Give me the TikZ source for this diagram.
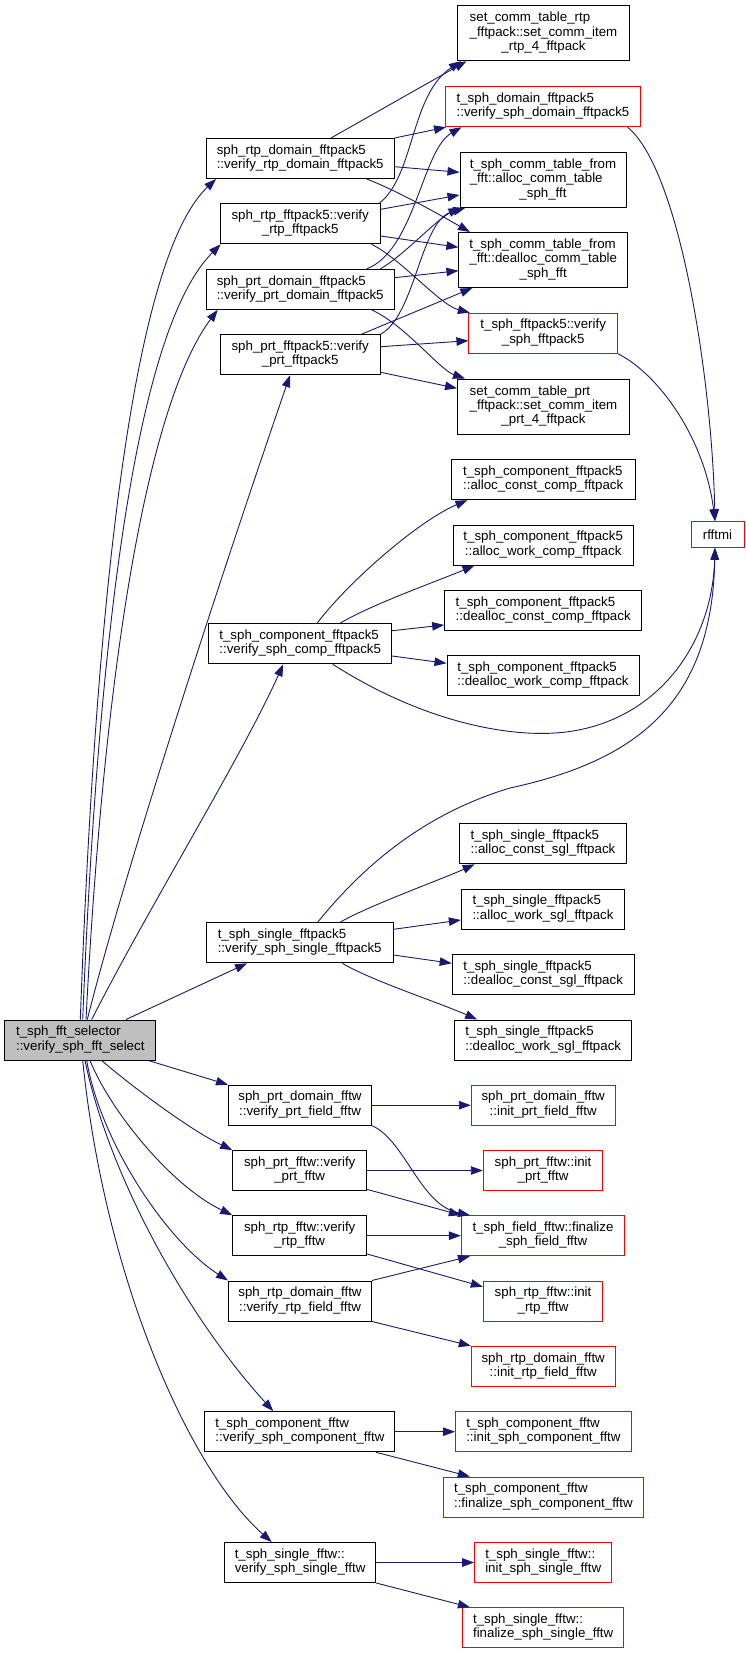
\documentclass[tikz,border=0pt]{standalone}
\usepackage{fontspec}
\setmainfont{Liberation Sans}
\usetikzlibrary{arrows.meta,calc}
\definecolor{edgeblue}{RGB}{25,25,112}
\definecolor{selgray}{RGB}{191,191,191}
\newcommand{\twol}[2]{\begin{tabular}{@{}l@{}}#1\\\multicolumn{1}{@{}c@{}}{#2}\end{tabular}}
\tikzset{
  nbox/.style={draw=black, line width=1pt, fill=white, inner sep=0pt, font=\fontsize{13.3}{14.3}\selectfont},
  rbox/.style={nbox, draw=red},
  sbox/.style={nbox, fill=selgray},
  conn/.style={draw=edgeblue, line width=0.9pt, -{Triangle[length=12pt,width=8.5pt]}, fill=none},
}
\begin{document}
\begin{tikzpicture}[x=1pt,y=-1pt]
\useasboundingbox (0,0) rectangle (745,1654);
% ---------- nodes ----------
\node[nbox,minimum width=172,minimum height=55] (n1) at (543.5,33.2) {\twol{set\_comm\_table\_rtp\\\_fftpack::set\_comm\_item}{\_rtp\_4\_fftpack}};
\node[rbox,minimum width=195,minimum height=40] (n2) at (543,106.7) {\twol{t\_sph\_domain\_fftpack5}{::verify\_sph\_domain\_fftpack5}};
\node[nbox,minimum width=188,minimum height=40] (n3) at (300.2,158.5) {\twol{sph\_rtp\_domain\_fftpack5}{::verify\_rtp\_domain\_fftpack5}};
\node[nbox,minimum width=166,minimum height=55] (n4) at (543,180) {\twol{t\_sph\_comm\_table\_from\\\_fft::alloc\_comm\_table}{\_sph\_fft}};
\node[nbox,minimum width=160,minimum height=40] (n5) at (300.2,223.8) {\twol{sph\_rtp\_fftpack5::verify}{\_rtp\_fftpack5}};
\node[nbox,minimum width=168.6,minimum height=55] (n6) at (543.2,260) {\twol{t\_sph\_comm\_table\_from\\\_fft::dealloc\_comm\_table}{\_sph\_fft}};
\node[nbox,minimum width=188,minimum height=40] (n7) at (300.2,289.3) {\twol{sph\_prt\_domain\_fftpack5}{::verify\_prt\_domain\_fftpack5}};
\node[rbox,minimum width=148.5,minimum height=40] (n8) at (543.2,333.2) {\twol{t\_sph\_fftpack5::verify}{\_sph\_fftpack5}};
\node[nbox,minimum width=160,minimum height=40] (n9) at (300.2,354.7) {\twol{sph\_prt\_fftpack5::verify}{\_prt\_fftpack5}};
\node[nbox,minimum width=172,minimum height=55] (n10) at (543.5,406.5) {\twol{set\_comm\_table\_prt\\\_fftpack::set\_comm\_item}{\_prt\_4\_fftpack}};
\node[rbox,minimum width=53,minimum height=25.6] (n11) at (717.5,534.5) {rfftmi};
\node[nbox,minimum width=184,minimum height=40] (n12) at (543.2,479.7) {\twol{t\_sph\_component\_fftpack5}{::alloc\_const\_comp\_fftpack}};
\node[nbox,minimum width=180,minimum height=40] (n13) at (543.2,545) {\twol{t\_sph\_component\_fftpack5}{::alloc\_work\_comp\_fftpack}};
\node[nbox,minimum width=197,minimum height=40] (n14) at (543.2,610.7) {\twol{t\_sph\_component\_fftpack5}{::dealloc\_const\_comp\_fftpack}};
\node[nbox,minimum width=192,minimum height=40] (n15) at (543,675.8) {\twol{t\_sph\_component\_fftpack5}{::dealloc\_work\_comp\_fftpack}};
\node[nbox,minimum width=183,minimum height=40] (n16) at (300.2,643.8) {\twol{t\_sph\_component\_fftpack5}{::verify\_sph\_comp\_fftpack5}};
\node[nbox,minimum width=167,minimum height=40] (n17) at (543,843.8) {\twol{t\_sph\_single\_fftpack5}{::alloc\_const\_sgl\_fftpack}};
\node[nbox,minimum width=163.3,minimum height=40] (n18) at (543,909.2) {\twol{t\_sph\_single\_fftpack5}{::alloc\_work\_sgl\_fftpack}};
\node[nbox,minimum width=186.7,minimum height=40] (n19) at (299.7,942.8) {\twol{t\_sph\_single\_fftpack5}{::verify\_sph\_single\_fftpack5}};
\node[nbox,minimum width=182,minimum height=40] (n20) at (543.2,974.7) {\twol{t\_sph\_single\_fftpack5}{::dealloc\_const\_sgl\_fftpack}};
\node[nbox,minimum width=177,minimum height=40] (n21) at (543.2,1040) {\twol{t\_sph\_single\_fftpack5}{::dealloc\_work\_sgl\_fftpack}};
\node[sbox,minimum width=151.3,minimum height=40] (n22) at (80.3,1040) {\twol{t\_sph\_fft\_selector}{::verify\_sph\_fft\_select}};
\node[nbox,minimum width=143,minimum height=40] (n23) at (300,1105.2) {\twol{sph\_prt\_domain\_fftw}{::verify\_prt\_field\_fftw}};
\node[rbox,minimum width=143.8,minimum height=40] (n24) at (543.2,1105.2) {\twol{sph\_prt\_domain\_fftw}{::init\_prt\_field\_fftw}};
\node[nbox,minimum width=134,minimum height=40] (n25) at (299.7,1170.5) {\twol{sph\_prt\_fftw::verify}{\_prt\_fftw}};
\node[rbox,minimum width=119.4,minimum height=40] (n26) at (543,1170.5) {\twol{sph\_prt\_fftw::init}{\_prt\_fftw}};
\node[nbox,minimum width=134,minimum height=40] (n27) at (299.7,1235.7) {\twol{sph\_rtp\_fftw::verify}{\_rtp\_fftw}};
\node[rbox,minimum width=163.3,minimum height=40] (n28) at (543,1235.7) {\twol{t\_sph\_field\_fftw::finalize}{\_sph\_field\_fftw}};
\node[nbox,minimum width=143,minimum height=40] (n29) at (300,1301) {\twol{sph\_rtp\_domain\_fftw}{::verify\_rtp\_field\_fftw}};
\node[rbox,minimum width=119.4,minimum height=40] (n30) at (543,1301) {\twol{sph\_rtp\_fftw::init}{\_rtp\_fftw}};
\node[rbox,minimum width=143.8,minimum height=40] (n31) at (543.2,1366.3) {\twol{sph\_rtp\_domain\_fftw}{::init\_rtp\_field\_fftw}};
\node[nbox,minimum width=190,minimum height=40] (n32) at (299.9,1431.7) {\twol{t\_sph\_component\_fftw}{::verify\_sph\_component\_fftw}};
\node[rbox,minimum width=175.7,minimum height=40] (n33) at (543.4,1431.7) {\twol{t\_sph\_component\_fftw}{::init\_sph\_component\_fftw}};
\node[rbox,minimum width=199.7,minimum height=40] (n34) at (543.4,1497) {\twol{t\_sph\_component\_fftw}{::finalize\_sph\_component\_fftw}};
\node[nbox,minimum width=151.4,minimum height=40] (n35) at (300.1,1562.5) {\twol{t\_sph\_single\_fftw::}{verify\_sph\_single\_fftw}};
\node[rbox,minimum width=137,minimum height=40] (n36) at (543.2,1562.5) {\twol{t\_sph\_single\_fftw::}{init\_sph\_single\_fftw}};
\node[rbox,minimum width=161,minimum height=40] (n37) at (543.2,1627.7) {\twol{t\_sph\_single\_fftw::}{finalize\_sph\_single\_fftw}};
% ---------- connectors from selector ----------
\draw[conn] (n22.north) .. controls (95,620) and (130,260) .. ($(n3.south west)+(10.4,0)$);
\draw[conn] ($(n22.north)+(2.4,0)$) .. controls (98,640) and (135,330) .. ($(n5.south west)+(1,0)$);
\draw[conn] ($(n22.north)+(5.7,0)$) .. controls (105,650) and (150,400) .. ($(n7.south west)+(12,0)$);
\draw[conn] ($(n22.north)+(7,0)$) .. controls (130,850) and (240,520) .. ($(n9.south)+(-10.2,0)$);
\draw[conn] ($(n22.north)+(11.4,0)$) .. controls (150,905) and (240,760) .. ($(n16.south)+(-16.9,0)$);
\draw[conn] ($(n22.north)+(45.7,0)$) -- ($(n19.south)+(-52.7,0)$);
\draw[conn] ($(n22.south)+(68,0)$) -- (n23.north west);
\draw[conn] ($(n22.south)+(21.4,0)$) .. controls (130,1085) and (190,1130) .. (n25.north west);
\draw[conn] ($(n22.south)+(9.7,0)$) .. controls (110,1110) and (170,1185) .. (n27.north west);
\draw[conn] ($(n22.south)+(6.4,0)$) .. controls (100,1140) and (165,1240) .. (n29.north west);
\draw[conn] ($(n22.south)+(4.7,0)$) .. controls (110,1180) and (190,1320) .. ($(n32.north)+(-26.6,0)$);
\draw[conn] ($(n22.south)+(2.4,0)$) .. controls (105,1280) and (190,1470) .. ($(n35.north)+(-28.4,0)$);
% ---------- fftpack5 groups ----------
\draw[conn] ($(n3.north)+(30.8,0)$) -- ($(n1.south west)+(9.5,0)$);
\draw[conn] (n3.north east) -- ($(n2.south west)+(1,0)$);
\draw[conn] ($(n3.east)+(0,8.2)$) -- ($(n4.west)+(0,-7.7)$);
\draw[conn] ($(n3.south)+(66.6,0)$) .. controls (400,192) and (440,215) .. ($(n6.north west)+(11.5,0)$);
\draw[conn] ($(n5.north east)+(-1.4,0)$) .. controls (415,175) and (410,95) .. ($(n1.south west)+(4,0)$);
\draw[conn] ($(n5.east)+(0,-14.5)$) -- ($(n4.west)+(0,15)$);
\draw[conn] ($(n5.east)+(0,12.2)$) -- ($(n6.west)+(0,-12.7)$);
\draw[conn] ($(n5.south)+(71.3,0)$) .. controls (400,258) and (440,305) .. ($(n8.north west)+(1.4,0)$);
\draw[conn] ($(n7.north)+(66.6,0)$) .. controls (415,250) and (422,150) .. ($(n2.south west)+(16.5,0)$);
\draw[conn] ($(n7.north east)+(-14.3,0)$) .. controls (405,255) and (440,215) .. ($(n4.south west)+(5.7,0)$);
\draw[conn] ($(n7.east)+(0,-11.6)$) -- ($(n6.west)+(0,10.7)$);
\draw[conn] ($(n7.south)+(71.3,0)$) .. controls (405,325) and (440,370) .. ($(n10.north west)+(8,0)$);
\draw[conn] ($(n9.north)+(61.3,0)$) -- ($(n6.south west)+(13.9,0)$);
\draw[conn] (n9.north east) .. controls (415,315) and (420,225) .. ($(n4.south west)+(1,0)$);
\draw[conn] ($(n9.east)+(0,-8)$) -- ($(n8.west)+(0,7.5)$);
\draw[conn] ($(n9.east)+(0,17.6)$) -- ($(n10.west)+(0,-18.2)$);
% ---------- to rfftmi ----------
\draw[conn] ($(n2.south east)+(-13.4,0)$) .. controls (680,170) and (712,380) .. ($(n11.north)+(-2.5,0)$);
\draw[conn] (n8.south east) .. controls (660,375) and (705,440) .. ($(n11.north)+(-2.5,0)$);
\draw[conn] ($(n16.south)+(32.6,0)$) .. controls (420,720) and (500,735) .. (549,733.3) .. controls (650,730) and (712,650) .. ($(n11.south)+(-2.5,0)$);
\draw[conn] ($(n19.north)+(17.9,0)$) .. controls (360,870) and (420,815) .. (510,788) .. controls (640,760) and (712,700) .. ($(n11.south)+(-2.5,0)$);
% ---------- component fftpack5 ----------
\draw[conn] ($(n16.north)+(16.8,0)$) .. controls (350,580) and (420,520) .. ($(n12.south west)+(16.7,0)$);
\draw[conn] ($(n16.north)+(39.8,0)$) .. controls (370,605) and (440,580) .. ($(n13.south west)+(21.8,0)$);
\draw[conn] ($(n16.east)+(0,-13.1)$) -- ($(n14.west)+(0,14.3)$);
\draw[conn] ($(n16.east)+(0,12.2)$) -- ($(n15.west)+(0,-12.5)$);
% ---------- single fftpack5 ----------
\draw[conn] ($(n19.north)+(40.3,0)$) .. controls (370,905) and (440,880) .. ($(n17.south west)+(15.6,0)$);
\draw[conn] ($(n19.east)+(0,-13.5)$) -- ($(n18.west)+(0,10.8)$);
\draw[conn] ($(n19.east)+(0,12.2)$) -- ($(n20.west)+(0,-11.4)$);
\draw[conn] ($(n19.south)+(42.7,0)$) .. controls (370,980) and (440,1003) .. ($(n21.north west)+(22.9,0)$);
% ---------- fftw ----------
\draw[conn] (n23.east) -- (n24.west);
\draw[conn] (n23.south east) .. controls (405,1140) and (420,1205) .. ($(n28.north west)+(9.1,0)$);
\draw[conn] (n25.east) -- (n26.west);
\draw[conn] ($(n25.south east)+(0,-1.6)$) -- (n28.north west);
\draw[conn] (n27.east) -- (n28.west);
\draw[conn] ($(n27.east)+(0,18.3)$) -- ($(n30.west)+(0,-14.3)$);
\draw[conn] (n29.north east) -- ($(n28.south west)+(9.1,0)$);
\draw[conn] (n29.south east) -- (n31.north west);
\draw[conn] (n32.east) -- (n33.west);
\draw[conn] ($(n32.south)+(75.9,0)$) -- ($(n34.north west)+(26.8,0)$);
\draw[conn] (n35.east) -- (n36.west);
\draw[conn] (n35.south east) -- ($(n37.north west)+(7.7,0)$);
\end{tikzpicture}
\end{document}
